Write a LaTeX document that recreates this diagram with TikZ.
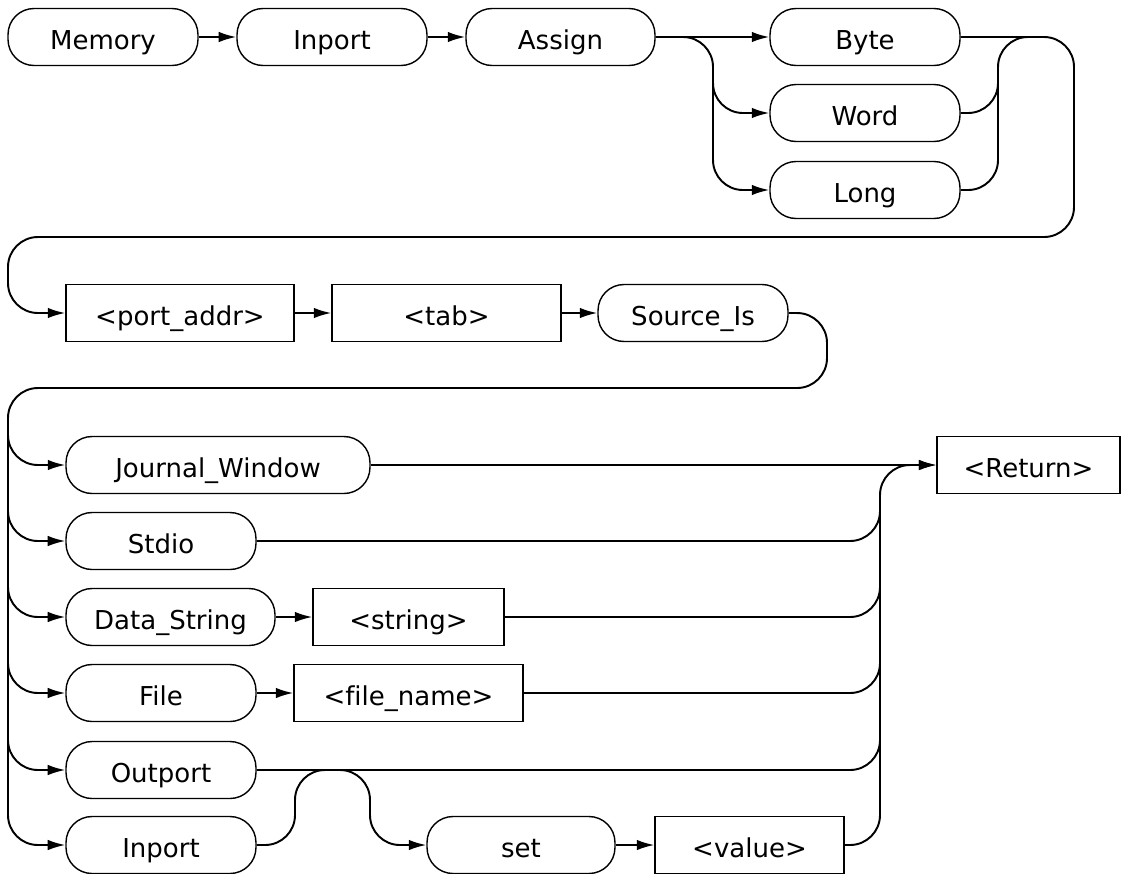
\documentclass[tikz,border=0pt]{standalone}
\usepackage{fontspec}
\setmainfont[Ligatures=NoCommon]{DejaVu Sans}
\usepackage{tikz}
\usetikzlibrary{arrows.meta}
\tikzset{
  kw/.style={draw,line width=0.8pt,rounded corners=0.52cm,minimum height=1.14cm,inner sep=0pt,
    text height=14pt,text depth=0pt},
  pm/.style={draw,line width=0.8pt,minimum height=1.14cm,inner sep=0pt,
    text height=14pt,text depth=0pt},
  conn/.style={line width=1.1pt,rounded corners=0.6cm},
  flow/.style={conn,-{Latex[length=10pt,width=6pt]}},
}

\begin{document}
\begin{tikzpicture}[x=0.02cm,y=-0.02cm,font=\fontsize{14.8}{17}\selectfont]
        \useasboundingbox (0,0) rectangle (1125,873);
        % --- birinchi qator ---
        \node[kw,minimum width=3.8cm]  (mem)  at (103,37)  {Memory};
        \node[kw,minimum width=3.8cm]  (inp)  at (332,37)  {Inport};
        \node[kw,minimum width=3.78cm] (asg)  at (560.5,37){Assign};
        \node[kw,minimum width=3.8cm]  (byte) at (865,37)  {Byte};
        \node[kw,minimum width=3.8cm]  (word) at (865,113) {Word};
        \node[kw,minimum width=3.8cm]  (long) at (865,190) {Long};
        % --- ikkinchi qator ---
        \node[pm,minimum width=4.56cm] (port) at (180,313)  {<port\_addr>};
        \node[pm,minimum width=4.58cm] (tab)  at (446.5,313){<tab>};
        \node[kw,minimum width=3.8cm]  (src)  at (693,313)  {Source\_Is};
        % --- manbalar ---
        \node[kw,minimum width=6.08cm] (jw)    at (218,465)   {Journal\_Window};
        \node[pm,minimum width=3.66cm] (ret)   at (1028.5,465){<Return>};
        \node[kw,minimum width=3.8cm]  (stdio) at (161,541)   {Stdio};
        \node[kw,minimum width=4.18cm] (dstr)  at (170.5,617) {Data\_String};
        \node[pm,minimum width=3.82cm] (str)   at (408.5,617) {<string>};
        \node[kw,minimum width=3.8cm]  (file)  at (161,693)   {File};
        \node[pm,minimum width=4.58cm] (fname) at (408.5,693) {<file\_name>};
        \node[kw,minimum width=3.8cm]  (outp)  at (161,770)   {Outport};
        \node[kw,minimum width=3.8cm]  (inpb)  at (161,845)   {Inport};
        \node[kw,minimum width=3.76cm] (set)   at (521,845)   {set};
        \node[pm,minimum width=3.78cm] (val)   at (749.5,845) {<value>};
        % ulanishlar
        \draw[flow] (mem) -- (inp);
        \draw[flow] (inp) -- (asg);
        \draw[flow] (asg) -- (byte);
        \draw[flow] (asg.east) -| (713,190) -- (long.west);
        \draw[flow] (713,100) |- (word.west);
        \draw[conn] (word.east) -| (998,37) -- (1030,37);
        \draw[conn] (long.east) -| (998,80);
        \draw[flow] (byte.east) -- (1074,37) -- (1074,237) -- (8,237) |- (port.west);
        \draw[flow] (port) -- (tab);
        \draw[flow] (tab) -- (src);
        \draw[flow] (src.east) -- (827,313) -- (827,388) -- (8,388) |- (inpb.west);
        \foreach \n in {jw,stdio,dstr,file,outp}
          \draw[flow] (8,430) |- (\n.west);
        \draw[flow] (dstr) -- (str);
        \draw[flow] (file) -- (fname);
        \draw[flow] (jw) -- (ret);
        \draw[flow] (inpb.east) -- (295,845) -- (295,770) -- (370,770) -- (370,845) -- (set.west);
        \draw[flow] (set) -- (val);
        \draw[flow] (val.east) -| (880,465) -- (ret.west);
        \foreach \n in {stdio,str,fname,outp}
          \draw[conn] (\n.east) -| (880,500);
      \end{tikzpicture}
\end{document}
